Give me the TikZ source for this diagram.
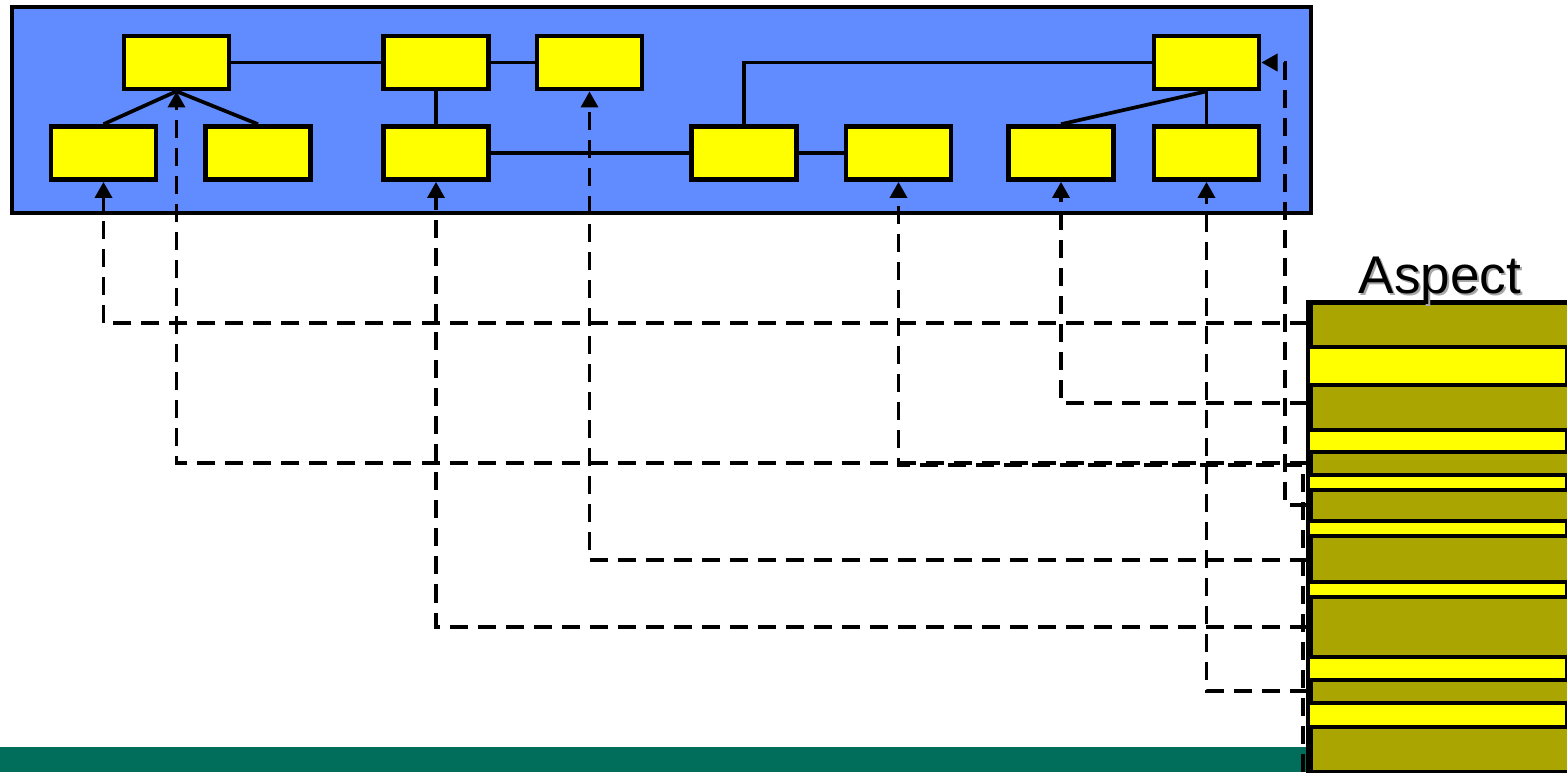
\documentclass[tikz,border=0pt]{standalone}
\usepackage{fontspec}
\setmainfont{Liberation Sans}
\usetikzlibrary{arrows.meta}
\definecolor{panelblue}{RGB}{97,140,255}
\definecolor{boxyellow}{RGB}{255,255,0}
\definecolor{aspectolive}{RGB}{170,165,0}
\definecolor{bargreen}{RGB}{0,110,90}

\begin{document}
\begin{tikzpicture}[x=0.01cm,y=-0.01cm,
  cls/.style={draw=black, line width=1.3pt, fill=boxyellow,
    minimum width=1.05cm, minimum height=0.53cm, inner sep=0pt},
  link/.style={line width=1.05pt},
  trace/.style={line width=1.1pt, dash pattern=on 0.18cm off 0.1cm,
    -{Triangle[length=4.6pt,width=4.8pt]}},
  band/.style={draw=black, line width=1.3pt, fill=boxyellow},
]
\useasboundingbox (0,0) rectangle (1567,772);

% footer bar
\fill[bargreen] (0,747) rectangle (1308,772);

% class model panel
\node[draw=black, line width=1.2pt, fill=panelblue, anchor=north west,
  minimum width=12.98cm, minimum height=2.06cm, inner sep=0pt] (panel) at (10,5) {};

% classes, top row
\node[cls] (t1) at (176.5,62.5) {};
\node[cls] (t2) at (436,62.5) {};
\node[cls] (t3) at (589.5,62.5) {};
\node[cls] (t4) at (1206.5,62.5) {};
% classes, bottom row
\node[cls] (b1) at (103.5,153) {};
\node[cls] (b2) at (258,153) {};
\node[cls] (b3) at (436,153) {};
\node[cls] (b4) at (744,153) {};
\node[cls] (b5) at (898.5,153) {};
\node[cls] (b6) at (1061,153) {};
\node[cls] (b7) at (1206.5,153) {};

% associations
\draw[link] (t1) -- (t2);
\draw[link] (t2) -- (t3);
\draw[link] (t2) -- (b3);
\draw[link] (b3) -- (b4);
\draw[link] (b4) -- (b5);
\draw[link] (b4.north) -- (b4.north |- t4.west) -- (t4.west);
\draw[link] (t1.south) -- (b1.north);
\draw[link] (t1.south) -- (b2.north);
\draw[link] (t4.south) -- (b6.north);
\draw[link] (t4.south) -- (b7.north);

% aspect column
\node[draw=black, line width=1.3pt, fill=aspectolive, anchor=north west,
  minimum width=2.59cm, minimum height=4.70cm, inner sep=0pt] (aspect) at (1308,300) {};
\foreach \a/\b in {347/385,430/452,475/490,521/536,582/597,657/680,703/727}
  \draw[band] (1308,\a) rectangle (1567,\b);
\draw[line width=1.4pt] (aspect.north west) -- (aspect.south west);

\node[text=black!35, anchor=base, font=\fontsize{15.1}{18}\selectfont] at (1442,295) {Aspect};
\node[anchor=base, font=\fontsize{15.1}{18}\selectfont] (aspectlabel) at (1440,293) {Aspect};

% crosscutting traces from the aspect column
\coordinate (s1) at (1308,323);
\coordinate (s2) at (1308,403);
\coordinate (s3) at (1308,463);
\coordinate (s4) at (1303,772);
\coordinate (s5) at (1308,505);
\coordinate (s6) at (1308,560);
\coordinate (s7) at (1308,627);
\coordinate (s8) at (1308,691);

\draw[trace] (s1) -- (s1 -| b1.south) -- (b1.south);
\draw[trace] (s2) -- (s2 -| b6.south) -- (b6.south);
\draw[trace] (s3) -- (s3 -| t1.south) -- (t1.south);
\draw[trace] (s4) -- (1303,465) -- (b5.south |- 0,465) -- (b5.south);
\draw[trace] (s5) -- (1285,505) -- (1285,62.5) -- (t4.east);
\draw[trace] (s6) -- (s6 -| t3.south) -- (t3.south);
\draw[trace] (s7) -- (s7 -| b3.south) -- (b3.south);
\draw[trace] (s8) -- (s8 -| b7.south) -- (b7.south);
\end{tikzpicture}
\end{document}
